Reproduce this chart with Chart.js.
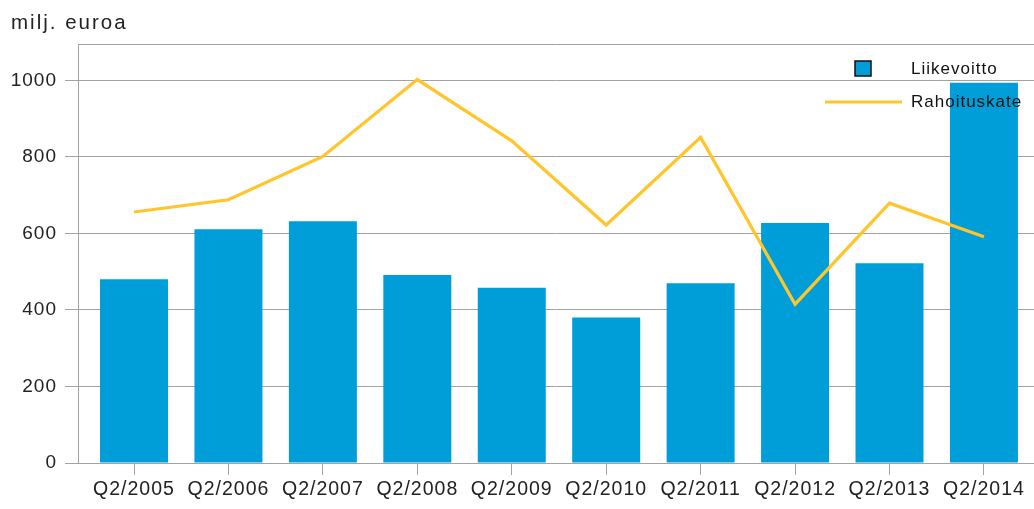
<!DOCTYPE html>
<html><head><meta charset="utf-8">
<script src="https://cdn.jsdelivr.net/npm/chart.js@4.4.1/dist/chart.umd.min.js"></script>
<style>html,body{margin:0;padding:0;background:#fff;} #wrap{width:1034px;height:509px;position:relative;}</style>
</head><body><div id="wrap"><canvas id="c"></canvas></div>
<script>
const categories = ['Q2/2005','Q2/2006','Q2/2007','Q2/2008','Q2/2009','Q2/2010','Q2/2011','Q2/2012','Q2/2013','Q2/2014'];
const liikevoitto = [480,611,632,491,458,380,470,627,522,994];
const rahoituskate = [656,688,801,1002,842,622,851,415,679,591];
const yTicks = [0,200,400,600,800,1000];
const yMax = 1095;
const unitLabel = 'milj. euroa';
const seriesNames = ['Liikevoitto','Rahoituskate'];

const FONT = '"Liberation Sans", Arial, sans-serif';
const GRID = '#a3a3a3';
const BAR = '#009ed8';
const LINE = '#ffc52b';

const decor = {
  id: 'decor',
  beforeLayout(chart){ chart.ctx.letterSpacing = '1px'; },
  beforeDraw(chart){ chart.ctx.letterSpacing = '1px'; },
  afterDraw(chart){
    const ctx = chart.ctx;
    ctx.save();
    // unit title
    ctx.letterSpacing = '2px';
    ctx.fillStyle = '#222';
    ctx.font = '20.5px ' + FONT;
    ctx.textAlign = 'left';
    ctx.textBaseline = 'alphabetic';
    ctx.fillText(unitLabel, 11, 29);
    // legend
    const ds = chart.data.datasets;
    const bar = ds.find(d => d.type === 'bar');
    const line = ds.find(d => d.type === 'line');
    ctx.letterSpacing = '1px';
    ctx.font = '17px ' + FONT;
    ctx.textBaseline = 'middle';
    ctx.fillStyle = bar.backgroundColor;
    ctx.fillRect(855, 61, 16, 15);
    ctx.strokeStyle = '#111';
    ctx.lineWidth = 1.5;
    ctx.strokeRect(855, 61, 16, 15);
    ctx.fillStyle = '#111';
    ctx.fillText(bar.label, 911, 69);
    ctx.strokeStyle = line.borderColor;
    ctx.lineWidth = 3;
    ctx.beginPath(); ctx.moveTo(825, 102); ctx.lineTo(902, 102); ctx.stroke();
    ctx.fillStyle = '#111';
    ctx.fillText(line.label, 911, 102);
    ctx.restore();
  }
};

new Chart(document.getElementById('c'), {
  data: {
    datasets: [
      { type:'line', label: seriesNames[1], data: rahoituskate.map((v,i)=>({x:i,y:v})),
        borderColor: LINE, backgroundColor: LINE, borderWidth: 3.2, pointRadius: 0, tension: 0, order: 0 },
      { type:'bar', label: seriesNames[0], data: liikevoitto.map((v,i)=>({x:i,y:v})),
        backgroundColor: BAR, borderWidth: 0, barPercentage: 0.72, categoryPercentage: 1, order: 1 }
    ]
  },
  options: {
    responsive: true, maintainAspectRatio: false, animation: false, devicePixelRatio: 1,
    layout: { padding: { top: 44, right: 0, left: 0, bottom: 0 } },
    plugins: { legend: { display: false }, tooltip: { enabled: false }, title: { display: false } },
    scales: {
      x: {
        type: 'linear', min: -0.593, max: 9.53, offset: false,
        afterBuildTicks: s => { s.ticks = categories.map((c,i)=>({value:i})); },
        afterFit: s => { s.height = 46; },
        grid: { display: true, offset: false, drawOnChartArea: false, drawTicks: true, tickLength: 12, color: GRID, lineWidth: 1 },
        border: { display: true, color: GRID, width: 1 },
        ticks: { autoSkip: false, maxRotation: 0, padding: 3, color: '#222', font: { family: FONT, size: 19.5 },
                 callback: v => categories[v] ?? '' }
      },
      y: {
        min: 0, max: yMax,
        afterBuildTicks: s => { s.ticks = yTicks.map(v=>({value:v})).concat([{value:yMax}]); },
        afterFit: s => { s.width = 78; },
        grid: { color: GRID, lineWidth: 1, tickLength: 13,
                tickColor: c => (c.tick && c.tick.value > yTicks[yTicks.length-1]) ? 'rgba(0,0,0,0)' : GRID },
        border: { display: true, color: GRID, width: 1 },
        ticks: { padding: 8, color: '#222', font: { family: FONT, size: 19 },
                 callback: v => yTicks.includes(v) ? String(v) : '' }
      }
    }
  },
  plugins: [decor]
});
</script></body></html>
